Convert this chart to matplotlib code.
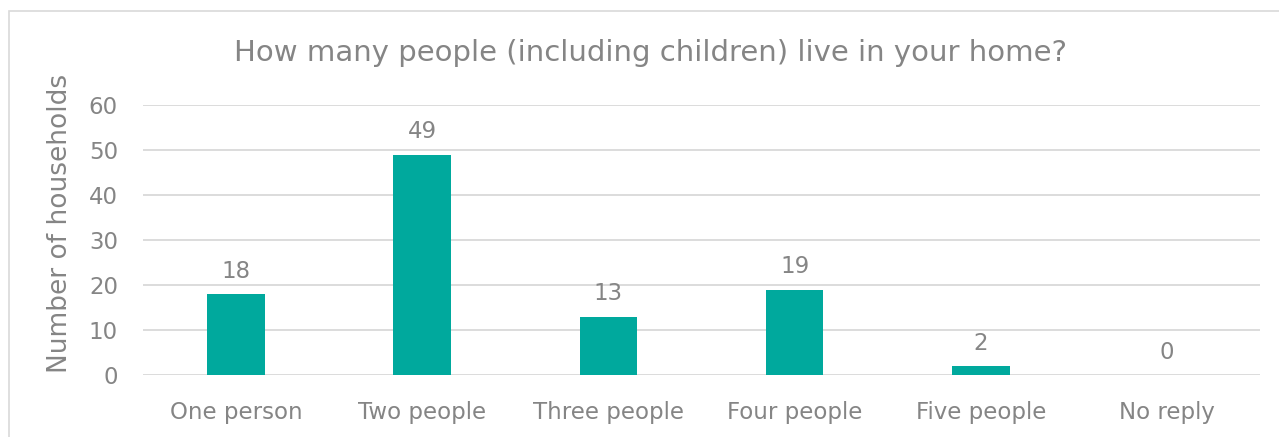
import numpy as np
import matplotlib
matplotlib.use("Agg")
import matplotlib.pyplot as plt
from matplotlib.patches import Rectangle

plt.rcParams['font.family'] = ['DejaVu Sans']

categories = ['One person', 'Two people', 'Three people', 'Four people', 'Five people', 'No reply']
households = [18, 49, 13, 19, 2, 0]
yticks = [0, 10, 20, 30, 40, 50, 60]

teal = '#00A99D'
grey = '#858585'
grid = '#D9D9D9'

fig = plt.figure(figsize=(12.79, 4.37), dpi=100)
ax = fig.add_axes([143/1279, 1-375/437, (1260-143)/1279, (375-105)/437])

# chart frame (cut off at the right and bottom like the original)
fig.patches.append(Rectangle((9/1279, -0.1), 2, 1-11/437+0.1, transform=fig.transFigure,
                             fill=False, edgecolor='#D9D9D9', linewidth=1.2))

x = np.arange(len(categories))
bars = ax.bar(x, households, width=0.31, color=teal, zorder=3)
for xi, v in zip(x, households):
    ax.text(xi, v + 2.5, str(v), ha='center', va='bottom', fontsize=16.5, color=grey)

ax.set_xlim(-0.5, len(categories)-0.5)
ax.set_ylim(0, 60)
ax.set_yticks(yticks)
ax.set_xticks(x)
ax.set_xticklabels(categories)
ax.tick_params(axis='both', length=0, labelsize=16.5, colors=grey)
ax.tick_params(axis='x', pad=19)
ax.tick_params(axis='y', pad=18)
ax.yaxis.grid(True, color=grid, linewidth=1.3, zorder=0)
for s in ax.spines.values():
    s.set_visible(False)
ax.set_axisbelow(True)

ax.set_ylabel('Number of households', fontsize=19, color=grey)
ax.yaxis.set_label_coords(-0.0625, 0.563)
fig.text(650/1279, 1-53/437, 'How many people (including children) live in your home?',
         ha='center', va='center', fontsize=21, color=grey)

fig.savefig('out.png', dpi=100)
